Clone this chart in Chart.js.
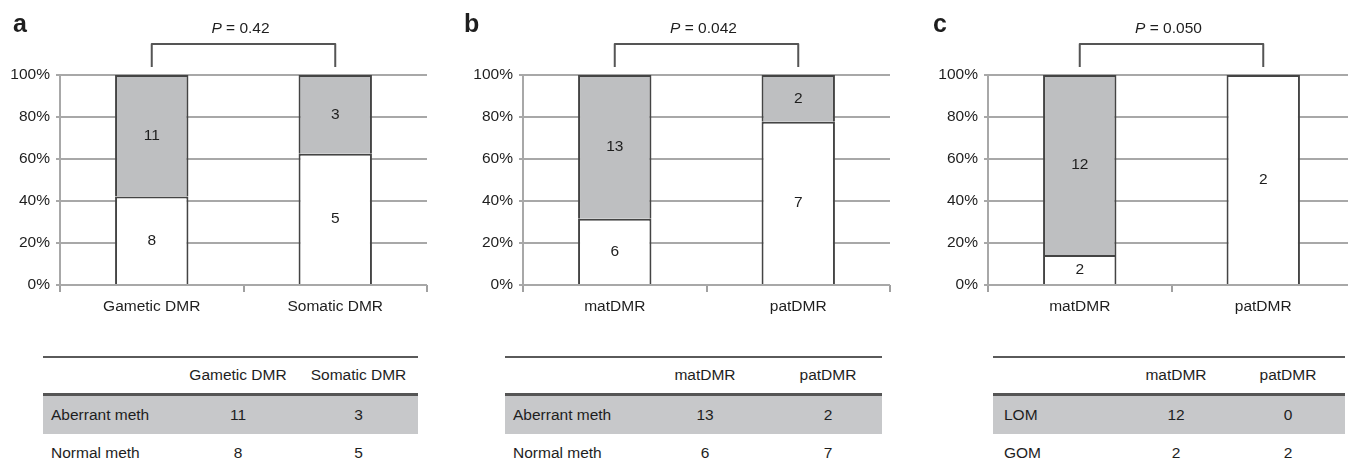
<!DOCTYPE html>
<html>
<head>
<meta charset="utf-8">
<script src="https://cdn.jsdelivr.net/npm/chart.js@4.4.1/dist/chart.umd.min.js"></script>
<style>
  body { margin: 0; background: #fff; width: 1348px; height: 469px; overflow: hidden; position: relative;
         font-family: "Liberation Sans", Arial, Helvetica, sans-serif; color: #1e1e1e; }
  canvas { position: absolute; top: 0; }
  table { position: absolute; top: 356px; border-collapse: collapse; font-size: 15.5px; table-layout: fixed; }
  thead tr { height: 37px; border-top: 2px solid #5a5a5a; border-bottom: 3px solid #555; }
  tbody tr.shade { height: 40px; background: #c7c8ca; }
  tbody tr.plain { height: 38px; }
  td, th { font-weight: normal; text-align: center; padding: 0; white-space: nowrap; }
  td.lab { text-align: left; }
</style>
</head>
<body>
<canvas id="chartA" width="440" height="320" style="left:0px"></canvas>
<canvas id="chartB" width="440" height="320" style="left:463px"></canvas>
<canvas id="chartC" width="440" height="320" style="left:928px"></canvas>

<table id="tableA" style="left:43px"></table>
<table id="tableB" style="left:505px"></table>
<table id="tableC" style="left:993px"></table>

<script>
// data
const categoriesA = ["Gametic DMR", "Somatic DMR"];
const aberrantA = [11, 3];
const normalA = [8, 5];

const categoriesB = ["matDMR", "patDMR"];
const aberrantB = [13, 2];
const normalB = [6, 7];

const categoriesC = ["matDMR", "patDMR"];
const lomC = [12, 0];
const gomC = [2, 2];

const rowLabelsAB = ["Aberrant meth", "Normal meth"];
const rowLabelsC = ["LOM", "GOM"];
const pValues = ["0.42", "0.042", "0.050"];
const panelLetters = ["a", "b", "c"];

const FAMILY = '"Liberation Sans", Arial, Helvetica, sans-serif';
const FONT = { family: FAMILY, size: 15.5 };

function toPercent(part, other) {
  return part.map((v, i) => v / (v + other[i]) * 100);
}

// numbers in the bars, bracket, P value and panel letter
const annotate = {
  id: 'annotate',
  afterDatasetsDraw(chart) {
    const ctx = chart.ctx;
    ctx.save();
    ctx.font = '15.5px ' + FAMILY;
    ctx.fillStyle = '#1e1e1e';
    ctx.textAlign = 'center';
    ctx.textBaseline = 'middle';
    chart.data.datasets.forEach((ds, i) => {
      chart.getDatasetMeta(i).data.forEach((bar, j) => {
        const n = ds.counts[j];
        if (!n) return;
        ctx.fillText(String(n), bar.x, (bar.y + bar.base) / 2);
      });
    });
    ctx.restore();
  },
  afterDraw(chart, args, opts) {
    const ctx = chart.ctx;
    const x = chart.scales.x;
    const x1 = x.getPixelForValue(0), x2 = x.getPixelForValue(1);
    ctx.save();
    // bracket
    ctx.strokeStyle = '#555';
    ctx.lineWidth = 2;
    ctx.lineJoin = 'round';
    ctx.beginPath();
    ctx.moveTo(x1, 67);
    ctx.lineTo(x1, 44);
    ctx.lineTo(x2, 44);
    ctx.lineTo(x2, 67);
    ctx.stroke();
    // P = ...
    ctx.fillStyle = '#1e1e1e';
    ctx.textBaseline = 'alphabetic';
    ctx.textAlign = 'left';
    ctx.font = 'italic 15.5px ' + FAMILY;
    const wP = ctx.measureText('P').width;
    ctx.font = '15.5px ' + FAMILY;
    const rest = ' = ' + opts.p;
    const wR = ctx.measureText(rest).width;
    const start = (x1 + x2) / 2 - 3 - (wP + wR) / 2;
    ctx.font = 'italic 15.5px ' + FAMILY;
    ctx.fillText('P', start, 33);
    ctx.font = '15.5px ' + FAMILY;
    ctx.fillText(rest, start + wP, 33);
    // panel letter
    ctx.font = 'bold 25px ' + FAMILY;
    ctx.fillText(opts.letter, opts.letterX, 32);
    ctx.restore();
  }
};

function makeChart(id, labels, top, bottom, p, letter, letterX) {
  return new Chart(document.getElementById(id), {
    type: 'bar',
    data: {
      labels,
      datasets: [
        { data: toPercent(bottom, top), counts: bottom, backgroundColor: '#ffffff' },
        { data: toPercent(top, bottom), counts: top, backgroundColor: '#bebfc1' }
      ]
    },
    options: {
      responsive: false,
      animation: false,
      layout: { padding: { top: 75, right: 13, bottom: 0, left: 0 } },
      datasets: {
        bar: { borderColor: '#444', borderWidth: 2, borderSkipped: 'start', categoryPercentage: 1, barPercentage: 0.4 }
      },
      plugins: {
        legend: { display: false },
        tooltip: { enabled: false },
        annotate: { p, letter, letterX }
      },
      scales: {
        x: {
          stacked: true,
          grid: { offset: true, drawOnChartArea: false, tickLength: 7, color: '#a0a0a0', lineWidth: 2 },
          border: { display: false },
          ticks: { font: FONT, color: '#1e1e1e', padding: 5 },
          afterFit: s => { s.height = 35; }
        },
        y: {
          stacked: true,
          min: 0,
          max: 100,
          ticks: { stepSize: 20, callback: v => v + '%', font: FONT, color: '#1e1e1e', padding: 6 },
          grid: { color: '#a8a8a8', lineWidth: 2, tickLength: 4 },
          border: { color: '#a8a8a8', width: 2 },
          afterFit: s => { s.width = 60; }
        }
      }
    },
    plugins: [annotate]
  });
}

makeChart('chartA', categoriesA, aberrantA, normalA, pValues[0], panelLetters[0], 13);
makeChart('chartB', categoriesB, aberrantB, normalB, pValues[1], panelLetters[1], 1);
makeChart('chartC', categoriesC, lomC, gomC, pValues[2], panelLetters[2], 5);

function makeTable(id, labels, rowLabels, top, bottom, widths, labPad) {
  const t = document.getElementById(id);
  let html = '<colgroup>' + widths.map(w => `<col style="width:${w}px">`).join('') + '</colgroup>';
  html += `<thead><tr><th></th><th>${labels[0]}</th><th>${labels[1]}</th></tr></thead><tbody>`;
  html += `<tr class="shade"><td class="lab" style="padding-left:${labPad}px">${rowLabels[0]}</td><td>${top[0]}</td><td>${top[1]}</td></tr>`;
  html += `<tr class="plain"><td class="lab" style="padding-left:${labPad}px">${rowLabels[1]}</td><td>${bottom[0]}</td><td>${bottom[1]}</td></tr></tbody>`;
  t.innerHTML = html;
  t.style.width = widths.reduce((a, b) => a + b, 0) + 'px';
}

makeTable('tableA', categoriesA, rowLabelsAB, aberrantA, normalA, [134, 122, 119], 8);
makeTable('tableB', categoriesB, rowLabelsAB, aberrantB, normalB, [131, 138, 108], 8);
makeTable('tableC', categoriesC, rowLabelsC, lomC, gomC, [128, 110, 114], 11);
</script>
</body>
</html>
